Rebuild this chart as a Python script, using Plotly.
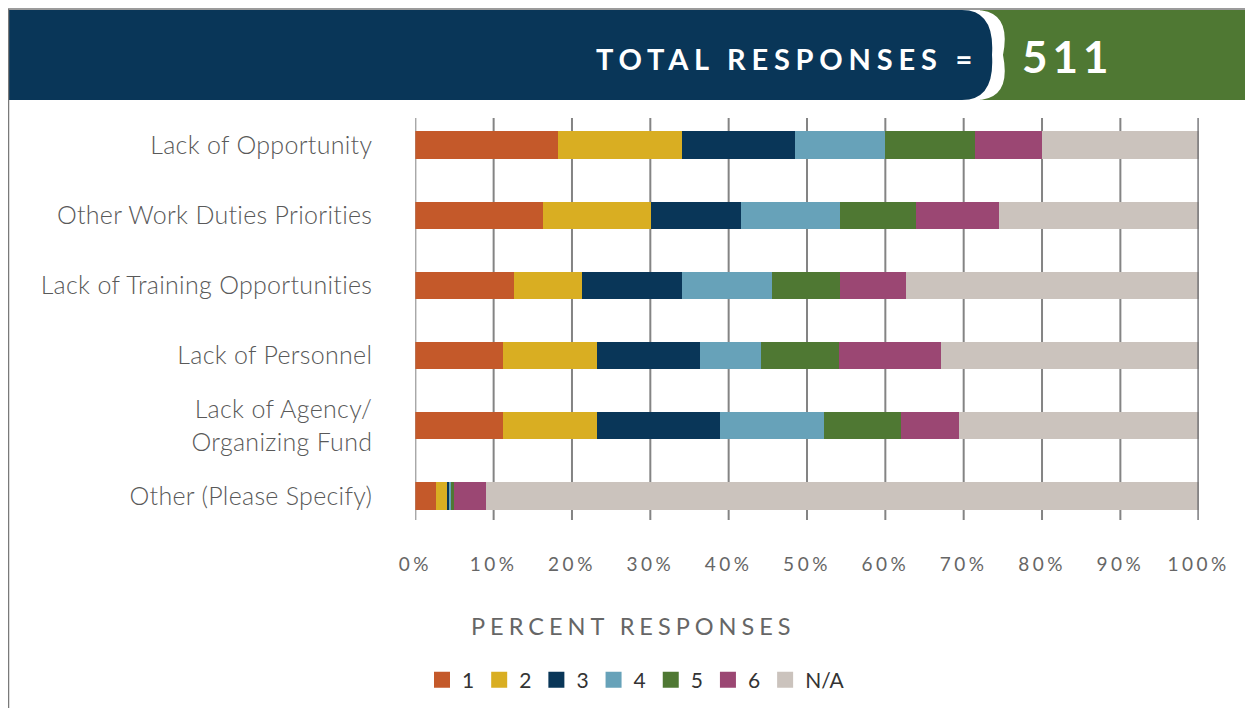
import plotly.graph_objects as go

# --- data (percent of responses) ---
categories = [
    "Lack of Opportunity",
    "Other Work Duties Priorities",
    "Lack of Training Opportunities",
    "Lack of Personnel",
    "Lack of Agency/<br>Organizing Fund",
    "Other (Please Specify)",
]
series_names = ["1", "2", "3", "4", "5", "6", "N/A"]
r1 = [18.2, 16.3, 12.6, 11.2, 11.2, 2.6]
r2 = [15.8, 13.8, 8.7, 12.0, 12.0, 1.6]
r3 = [14.5, 11.5, 12.7, 13.1, 15.7, 0.2]
r4 = [11.5, 12.6, 11.5, 7.8, 13.3, 0.2]
r5 = [11.5, 9.7, 8.7, 10.0, 9.8, 0.3]
r6 = [8.5, 10.6, 8.4, 13.0, 7.4, 4.1]
r_na = [20.0, 25.5, 37.4, 32.9, 30.6, 91.0]
series_values = [r1, r2, r3, r4, r5, r6, r_na]
colors = ["#C4592A", "#D9AE22", "#093658", "#67A2B9", "#4F7833", "#9B4773", "#CBC3BD"]
tick_vals = list(range(0, 101, 10))
tick_labels = [f"{v}%" for v in tick_vals]
total_responses = 511

# page has an 8px body margin, so the figure is drawn 8px in from the window edge
OFF = 8
W, H = 1253 - 2 * OFF, 716 - 2 * OFF
FONT = "Lato"


def px(x):
    # window pixel -> paper x
    return (x - OFF) / W


def py(y):
    # window pixel -> paper y
    return 1 - (y - OFF) / H


def spaced(text, sp):
    return "<br>".join(f'<span style="letter-spacing:{sp}px">{part}</span>'
                       for part in text.split("<br>"))


fig = go.Figure()

for name, vals, col in zip(series_names, series_values, colors):
    fig.add_trace(go.Bar(
        y=categories, x=vals, name=name, orientation="h",
        marker=dict(color=col, line=dict(width=0)),
        width=0.39, showlegend=False,
        hovertemplate="%{y}: %{x}%<extra>" + name + "</extra>",
    ))
    # legend swatch
    fig.add_trace(go.Scatter(
        x=[None], y=[None], mode="markers", name=name,
        marker=dict(symbol="square", size=16, color=col),
        hoverinfo="skip",
    ))

# header band
shapes = [
    dict(type="rect", xref="paper", yref="paper", x0=px(980), x1=1, y0=py(100), y1=py(10),
         fillcolor="#4F7833", line=dict(width=0), layer="below"),
    dict(type="path", xref="paper", yref="paper",
         path=(f"M {px(9)},{py(10)} L {px(975)},{py(10)} "
               f"Q {px(1012)},{py(10)} {px(1003)},{py(55)} "
               f"Q {px(1012)},{py(100)} {px(975)},{py(100)} "
               f"L {px(9)},{py(100)} Z"),
         fillcolor="white", line=dict(width=0), layer="below"),
    dict(type="path", xref="paper", yref="paper",
         path=(f"M {px(9)},{py(10)} L {px(962)},{py(10)} "
               f"Q {px(995)},{py(10)} {px(992)},{py(55)} "
               f"Q {px(995)},{py(100)} {px(962)},{py(100)} "
               f"L {px(9)},{py(100)} Z"),
         fillcolor="#093658", line=dict(width=0), layer="below"),
    # frame lines
    dict(type="line", xref="paper", yref="paper", x0=px(8), x1=1, y0=py(9), y1=py(9),
         line=dict(color="#7a7a7a", width=1.5)),
    dict(type="line", xref="paper", yref="paper", x0=px(8.5), x1=px(8.5), y0=py(9), y1=0,
         line=dict(color="#7a7a7a", width=1.5)),
]

# vertical gridlines (shorter than the plot domain, as in the original)
for v in tick_vals:
    last = v == tick_vals[-1]
    shapes.append(dict(
        type="line", xref="x", yref="paper", x0=v, x1=v, y0=py(520), y1=py(118),
        line=dict(color="#606064" if last else "#848484", width=2.5 if last else 2),
        layer="above" if last else "below",
    ))

annotations = [
    dict(xref="paper", yref="paper", x=px(980), y=py(59), xanchor="right", yanchor="middle",
         text='<b><span style="letter-spacing:5.8px">TOTAL RESPONSES =</span></b>',
         showarrow=False, font=dict(family=FONT, size=29, color="white")),
    dict(xref="paper", yref="paper", x=px(1020), y=py(56), xanchor="left", yanchor="middle",
         text=f'<b><span style="letter-spacing:5px">{total_responses}</span></b>',
         showarrow=False, font=dict(family=FONT, size=44, color="white")),
    dict(xref="paper", yref="paper", x=px(633), y=py(626), xanchor="center", yanchor="middle",
         text='<span style="letter-spacing:5px">PERCENT RESPONSES</span>',
         showarrow=False, font=dict(family=FONT, size=23.5, color="#666666")),
]

fig.update_layout(
    width=W, height=H,
    margin=dict(l=0, r=0, t=0, b=0, pad=0, autoexpand=False),
    paper_bgcolor="white", plot_bgcolor="white",
    barmode="stack", bargap=0.6,
    shapes=shapes, annotations=annotations,
    font=dict(family=FONT, color="#595959"),
    legend=dict(
        orientation="h", x=px(636), y=py(680), xanchor="center", yanchor="middle",
        font=dict(family=FONT, size=21, color="#333333"),
        itemwidth=30, traceorder="normal", bgcolor="rgba(0,0,0,0)",
    ),
    xaxis=dict(
        domain=[px(415.3), px(1198.7)], range=[0, 100],
        tickvals=tick_vals,
        ticktext=[spaced(t, 3.5) for t in tick_labels],
        tickfont=dict(family=FONT, size=19, color="#666666"),
        showgrid=False, zeroline=False, showline=False, ticks="", ticklabelstandoff=20,
        automargin=False, fixedrange=True,
    ),
    yaxis=dict(
        domain=[py(531), py(110)],
        categoryorder="array", categoryarray=categories,
        autorange="reversed",
        tickmode="array", tickvals=categories,
        ticktext=[spaced(c, 0.3) for c in categories],
        tickfont=dict(family=FONT, size=25, color="#595959", weight=300),
        showgrid=False, zeroline=False, showline=False, ticks="",
        ticklabelstandoff=42, automargin=False, fixedrange=True,
    ),
)

fig.write_html("out.html")
